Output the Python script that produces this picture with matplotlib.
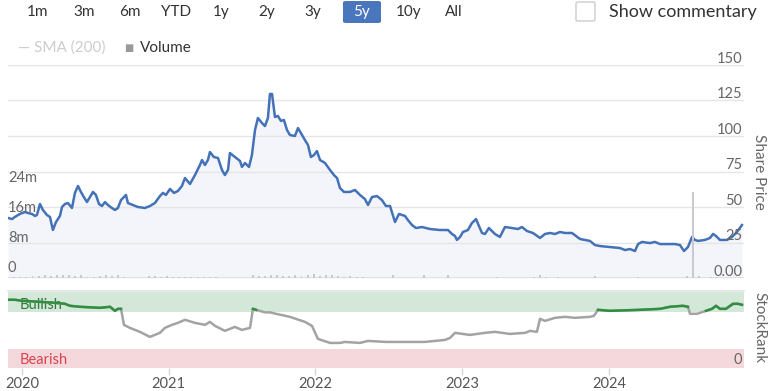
import matplotlib
matplotlib.use("Agg")
import matplotlib.pyplot as plt
import matplotlib.patches as patches
import numpy as np

plt.rcParams['font.family'] = ['Lato', 'DejaVu Sans']

# share price (decimal year, price)
price_dates = [2019.905, 2019.932, 2019.952, 2019.986, 2020.020, 2020.041, 2020.068, 2020.089, 2020.102,
               2020.123, 2020.143, 2020.170, 2020.191, 2020.211, 2020.232, 2020.259, 2020.273, 2020.293,
               2020.313, 2020.341, 2020.361, 2020.382, 2020.402, 2020.422, 2020.443, 2020.463, 2020.484,
               2020.504, 2020.525, 2020.545, 2020.566, 2020.586, 2020.613, 2020.634, 2020.654, 2020.675,
               2020.695, 2020.709, 2020.722, 2020.756, 2020.790, 2020.838, 2020.872, 2020.906, 2020.940,
               2020.961, 2020.981, 2021.009, 2021.036, 2021.063, 2021.090, 2021.111, 2021.145, 2021.179,
               2021.213, 2021.227, 2021.247, 2021.267, 2021.281, 2021.308, 2021.336, 2021.363, 2021.383,
               2021.404, 2021.417, 2021.451, 2021.486, 2021.499, 2021.520, 2021.547, 2021.567, 2021.588,
               2021.608, 2021.635, 2021.656, 2021.676, 2021.690, 2021.704, 2021.724, 2021.744, 2021.765,
               2021.785, 2021.806, 2021.826, 2021.860, 2021.881, 2021.908, 2021.928, 2021.949, 2021.969,
               2021.990, 2022.010, 2022.031, 2022.065, 2022.099, 2022.126, 2022.147, 2022.167, 2022.194,
               2022.235, 2022.269, 2022.303, 2022.337, 2022.358, 2022.385, 2022.419, 2022.453, 2022.480,
               2022.508, 2022.542, 2022.569, 2022.610, 2022.630, 2022.658, 2022.685, 2022.726, 2022.780,
               2022.848, 2022.903, 2022.930, 2022.951, 2022.964, 2022.985, 2023.005, 2023.039, 2023.066,
               2023.094, 2023.114, 2023.135, 2023.155, 2023.182, 2023.203, 2023.223, 2023.257, 2023.291,
               2023.339, 2023.380, 2023.407, 2023.441, 2023.482, 2023.530, 2023.564, 2023.598, 2023.632,
               2023.666, 2023.700, 2023.748, 2023.802, 2023.870, 2023.905, 2023.939, 2024.007, 2024.075,
               2024.109, 2024.143, 2024.177, 2024.198, 2024.225, 2024.279, 2024.313, 2024.348, 2024.382,
               2024.450, 2024.484, 2024.511, 2024.538, 2024.566, 2024.586, 2024.607, 2024.654, 2024.688,
               2024.709, 2024.729, 2024.756, 2024.804, 2024.838, 2024.872, 2024.906]
prices = [42.3, 41.5, 43.0, 45.1, 46.5, 45.8, 45.1, 43.7, 44.4,
          52.1, 47.9, 44.4, 43.0, 33.8, 39.4, 43.7, 50.0, 52.1,
          52.8, 49.3, 59.9, 64.8, 60.6, 57.0, 53.5, 57.0, 60.6,
          58.5, 52.1, 50.7, 53.5, 51.4, 49.3, 47.9, 49.3, 54.9,
          57.0, 58.5, 52.8, 51.4, 50.0, 49.3, 50.7, 52.8, 57.7,
          59.9, 58.5, 62.7, 59.9, 61.3, 64.8, 70.4, 66.2, 72.5,
          79.6, 83.1, 79.6, 83.1, 88.7, 85.2, 84.5, 76.1, 72.5,
          76.1, 88.0, 85.2, 82.4, 78.2, 81.0, 78.2, 86.6, 104.2,
          112.7, 109.2, 107.0, 112.7, 129.6, 129.6, 113.4, 114.1, 110.6,
          111.3, 104.2, 100.7, 100.0, 105.6, 100.7, 97.2, 93.7, 85.2,
          86.6, 89.4, 83.1, 81.0, 76.1, 72.5, 70.4, 63.4, 60.6,
          60.6, 62.0, 58.5, 55.6, 51.4, 57.0, 57.7, 54.9, 50.7,
          50.7, 39.4, 45.1, 43.7, 40.8, 37.3, 35.2, 35.9, 34.5,
          33.8, 33.8, 31.0, 29.6, 26.8, 28.9, 32.4, 33.8, 38.7,
          41.5, 36.6, 31.7, 31.0, 35.2, 33.1, 31.0, 28.9, 35.9,
          35.2, 34.5, 35.9, 33.1, 31.7, 28.2, 31.0, 31.7, 31.0,
          32.4, 31.7, 31.7, 27.5, 26.1, 23.2, 22.5, 21.8, 21.1,
          19.7, 20.4, 19.0, 23.9, 25.4, 24.6, 25.4, 23.9, 23.9,
          23.9, 23.2, 19.0, 21.8, 28.9, 26.8, 26.1, 26.8, 28.2,
          31.0, 29.6, 26.8, 26.8, 28.9, 32.4, 37.3]

# volume in millions, half-monthly
volumes = [0.1, 0.2, 0.3, 0.4, 0.6, 0.5, 0.8, 0.6, 0.9, 0.7, 0.9, 0.5, 0.8, 0.4, 0.3, 0.6,
           0.8, 0.5, 0.9, 0.3, 0.1, 0.0, 0.1, 0.5, 0.6, 0.4, 0.5, 0.3, 0.4, 0.2, 0.3, 0.2,
           0.3, 0.2, 0.3, 0.1, 0.1, 0.0, 0.1, 0.0, 0.8, 0.6, 0.5, 0.9, 0.7, 0.5, 0.6, 0.8,
           0.5, 0.7, 1.0, 0.5, 0.8, 0.9, 0.6, 0.4, 0.5, 0.3, 0.2, 0.1, 0.0, 0.1, 0.0, 0.9,
           0.1, 0.0, 0.1, 0.0, 0.8, 0.0, 0.1, 0.0, 0.7, 0.0, 0.1, 0.0, 0.0, 0.1, 0.0, 0.0,
           0.2, 0.0, 0.1, 0.0, 0.0, 0.1, 0.4, 0.8, 0.3, 0.0, 0.3, 0.0, 0.1, 0.0, 0.0, 0.1,
           0.6, 0.0, 0.1, 0.0, 0.0, 0.1, 0.0, 0.3, 0.0, 0.1, 0.0, 0.0, 0.1, 0.0, 0.1, 0.6,
           22.9, 0.5, 0.1, 0.3, 0.4, 0.1, 0.0, 0.1, 0.0]
vol_start = 2019.905

# StockRank (decimal year, rank)
rank_dates = [2019.905, 2019.952, 2020.000, 2020.123, 2020.225, 2020.293, 2020.327, 2020.395, 2020.532,
              2020.600, 2020.634, 2020.654, 2020.675, 2020.695, 2020.736, 2020.804, 2020.872, 2020.940,
              2020.974, 2021.022, 2021.063, 2021.111, 2021.179, 2021.247, 2021.281, 2021.315, 2021.383,
              2021.451, 2021.499, 2021.554, 2021.574, 2021.595, 2021.656, 2021.690, 2021.731, 2021.826,
              2021.928, 2021.976, 2022.017, 2022.099, 2022.167, 2022.201, 2022.303, 2022.358, 2022.480,
              2022.576, 2022.746, 2022.882, 2022.917, 2022.951, 2023.053, 2023.155, 2023.223, 2023.325,
              2023.428, 2023.462, 2023.509, 2023.530, 2023.564, 2023.632, 2023.700, 2023.768, 2023.870,
              2023.898, 2023.925, 2024.007, 2024.211, 2024.348, 2024.416, 2024.504, 2024.538, 2024.552,
              2024.600, 2024.661, 2024.702, 2024.729, 2024.756, 2024.797, 2024.845, 2024.879, 2024.906]
ranks = [89.5, 89.5, 88.2, 86.8, 85.5, 84.2, 81.6, 80.3, 78.9,
         80.3, 75.0, 77.6, 77.6, 56.6, 52.6, 47.4, 40.8, 46.1,
         52.6, 56.6, 59.2, 63.2, 59.2, 56.6, 60.5, 55.3, 48.7,
         53.9, 50.0, 52.6, 77.6, 76.3, 73.0, 73.0, 71.1, 67.1,
         60.5, 55.3, 38.2, 32.9, 32.9, 34.2, 32.9, 35.5, 34.2,
         34.2, 34.2, 36.8, 39.5, 46.1, 43.4, 46.1, 47.4, 44.7,
         46.1, 48.7, 47.4, 64.5, 61.8, 65.8, 67.1, 65.8, 67.1,
         68.4, 76.3, 75.0, 76.3, 77.6, 80.3, 81.6, 80.3, 71.1,
         71.1, 75.0, 77.6, 81.6, 77.6, 77.6, 84.2, 84.2, 82.9]

years = [2020, 2021, 2022, 2023, 2024]
price_ticks = [0, 25, 50, 75, 100, 125, 150]
price_labels = ['0.00', '25', '50', '75', '100', '125', '150']
vol_ticks = [0, 8, 16, 24]
vol_labels = ['0', '8m', '16m', '24m']
ranges = ['1m', '3m', '6m', 'YTD', '1y', '2y', '3y', '5y', '10y', 'All']
range_x = [38, 84, 130, 176, 221, 267, 313, 361, 409, 454]

W, H = 772, 391
fig = plt.figure(figsize=(W / 100, H / 100), dpi=100)


def fx(x):
    return x / W


def fy(y):
    return 1 - y / H


xmin, xmax = 2019.905, 2024.920
gray_txt = '#666666'

# range selector
for lab, x in zip(ranges, range_x):
    if lab == '5y':
        fig.patches.append(patches.FancyBboxPatch((fx(343), fy(23)), fx(38), 22 / H,
                                                  boxstyle='round,pad=0,rounding_size=0.004',
                                                  transform=fig.transFigure, facecolor='#4a76bd',
                                                  edgecolor='none'))
        fig.text(fx(x), fy(12), lab, color='white', fontsize=11, ha='center', va='center')
    else:
        fig.text(fx(x), fy(12), lab, color='#333333', fontsize=11, ha='center', va='center')

fig.patches.append(patches.FancyBboxPatch((fx(576), fy(21)), fx(19), 19 / H,
                                          boxstyle='round,pad=0,rounding_size=0.003',
                                          transform=fig.transFigure, facecolor='white',
                                          edgecolor='#cccccc', lw=1))
fig.text(fx(609), fy(12), 'Show commentary', color='#333333', fontsize=13, ha='left', va='center')

# legend
fig.text(fx(18), fy(48), '— SMA (200)', color='#cccccc', fontsize=11, ha='left', va='center')
fig.text(fx(124), fy(49), '■', color='#999999', fontsize=7, ha='left', va='center')
fig.text(fx(140), fy(48), 'Volume', color='#333333', fontsize=11, ha='left', va='center')

# price panel
ax = fig.add_axes([fx(8), fy(278), fx(736), 213 / H])
ax.set_xlim(xmin, xmax)
ax.set_ylim(0, 150)
ax.axis('off')
ax.fill_between(price_dates, prices, 0, color='#f4f5fb', zorder=1, lw=0)
for v in price_ticks[1:]:
    ax.axhline(v, color='#e6e6e6', lw=1, zorder=2)
ax.axhline(0, color='#dcdcdc', lw=1.2, zorder=2)
ax.plot(price_dates, prices, color='#4472b8', lw=1.8, zorder=5, solid_joinstyle='round')
for v, lab in zip(price_ticks, price_labels):
    ax.annotate(lab, (1, v), xycoords=ax.get_yaxis_transform(), xytext=(-1, 4.5),
                textcoords='offset points', ha='right', va='center', fontsize=10.5,
                color=gray_txt, zorder=6)

# volume overlay
vax = ax.twinx()
vax.set_xlim(xmin, xmax)
vax.set_ylim(0, 56.8)
vax.axis('off')
vol_dates = vol_start + np.arange(len(volumes)) / 24
vax.bar(vol_dates, volumes, width=0.013, color='#c9c9d0', zorder=3)
for v, lab in zip(vol_ticks, vol_labels):
    vax.annotate(lab, (0, v), xycoords=vax.get_yaxis_transform(), xytext=(0, 7.5),
                 textcoords='offset points', ha='left', va='center', fontsize=10.5,
                 color=gray_txt)

fig.text(fx(759), fy(172), 'Share Price', rotation=-90, color=gray_txt, fontsize=11,
         ha='center', va='center')

# StockRank panel
rax = fig.add_axes([fx(8), fy(368), fx(736), 77 / H])
rax.set_xlim(xmin, xmax)
rax.set_ylim(0, 101)
for s in rax.spines.values():
    s.set_visible(False)
rax.axhspan(74, 100, color='#d4e8d9', lw=0, zorder=0)
rax.axhspan(0, 25, color='#f5d8db', lw=0, zorder=0)
rax.axhline(101, color='#e3e3e3', lw=1.2, clip_on=False)
rax.set_yticks([])
rax.set_xticks(years)
rax.set_xticklabels([str(y) for y in years], fontsize=10.5, color='#555555')
rax.tick_params(axis='x', length=5, width=1, color='#d6d6d6', pad=1.5)

r = np.array(ranks)
rax.plot(rank_dates, r, color='#a3a3a3', lw=1.8, zorder=3)
rax.plot(rank_dates, np.where(r >= 74, r, np.nan), color='#2f8f3f', lw=1.8, zorder=4)
rax.text(0.016, 83, 'Bullish', transform=rax.get_yaxis_transform(),
         color='#2f7a3a', fontsize=10.5, ha='left', va='center', zorder=2)
rax.text(0.016, 10, 'Bearish', transform=rax.get_yaxis_transform(),
         color='#d9434f', fontsize=10.5, ha='left', va='center')
rax.text(0.997, 10, '0', transform=rax.get_yaxis_transform(),
         color=gray_txt, fontsize=10.5, ha='right', va='center')

fig.text(fx(759), fy(328), 'StockRank', rotation=-90, color=gray_txt, fontsize=11,
         ha='center', va='center')

fig.savefig('out.png', dpi=100)
